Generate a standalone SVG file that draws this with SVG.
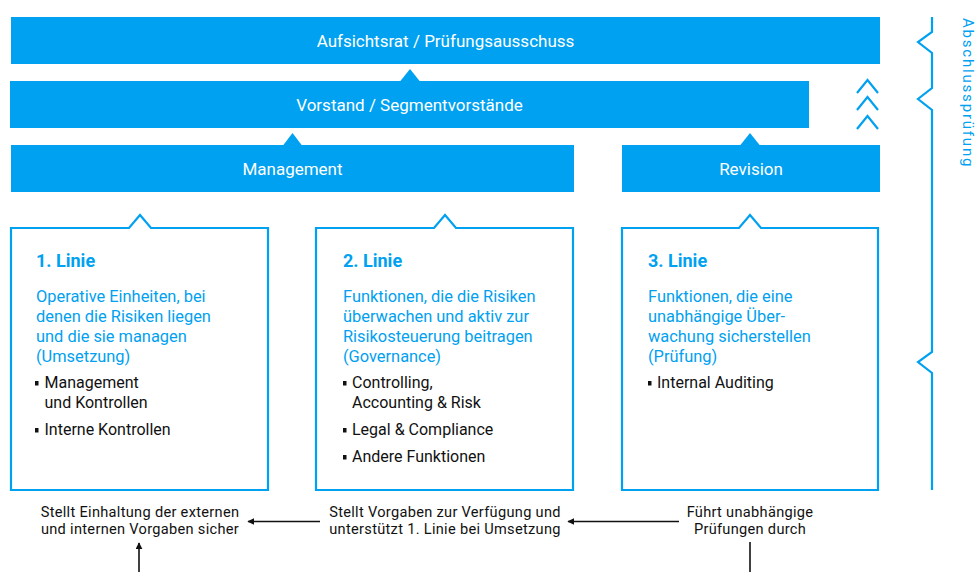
<svg xmlns="http://www.w3.org/2000/svg" width="976" height="572" viewBox="0 0 976 572">
<style>
.bar{fill:#00a1f0}
.bt{font-family:Roboto,"Liberation Sans",sans-serif;font-size:17px;fill:#fff;text-anchor:middle}
.box{fill:#fff;stroke:#00a1f0;stroke-width:2.2}
.h{font-family:Roboto,"Liberation Sans",sans-serif;font-size:18px;font-weight:bold;fill:#00a1f0}
.d{font-family:Roboto,"Liberation Sans",sans-serif;font-size:16.4px;fill:#00a1f0}
.li{font-family:Roboto,"Liberation Sans",sans-serif;font-size:16px;fill:#111}
.bu{fill:#111}
.ft{font-family:Roboto,"Liberation Sans",sans-serif;font-size:14.6px;fill:#111;text-anchor:middle;letter-spacing:0.3px}
.ln{stroke:#00a1f0;stroke-width:2.2;fill:none}
.ar{stroke:#111;stroke-width:1.6;fill:none}
</style>
<defs>
<marker id="ah" viewBox="0 0 10 10" refX="9" refY="5" markerWidth="7" markerHeight="7" markerUnits="userSpaceOnUse" orient="auto">
<path d="M0,0 L10,5 L0,10 Z" fill="#111"/>
</marker>
</defs>
<g id="aufsichtsrat">
<rect class="bar" x="11" y="17" width="869" height="47"/>
<text class="bt" x="445.5" y="47">Aufsichtsrat / Prüfungsausschuss</text>
</g>
<g id="vorstand">
<rect class="bar" x="10" y="81" width="799" height="47"/>
<polygon class="bar" points="400,81.5 410,69 420,81.5"/>
<text class="bt" x="409.5" y="111">Vorstand / Segmentvorstände</text>
</g>
<g id="management">
<rect class="bar" x="11" y="145" width="563" height="47"/>
<polygon class="bar" points="283,145.5 292.5,133 302,145.5"/>
<text class="bt" x="292.5" y="175">Management</text>
</g>
<g id="revision">
<rect class="bar" x="622" y="145" width="258" height="47"/>
<polygon class="bar" points="740,145.5 750,133 760,145.5"/>
<text class="bt" x="751" y="175">Revision</text>
</g>
<g id="chevrons">
<polyline class="ln" points="857,93 867.5,80 878,93"/>
<polyline class="ln" points="857,110 867.5,97 878,110"/>
<polyline class="ln" points="857,129 867.5,116 878,129"/>
</g>
<g id="abschlusspruefung">
<path class="ln" d="M932,17 V32 L918,42 L932,53 V88 L918,99 L932,110 V352 L918,362 L932,373 V490"/>
<text class="d" style="font-size:15px;letter-spacing:1.8px" transform="translate(963,18) rotate(90)">Abschlussprüfung</text>
</g>
<g id="linie1">
<path class="box" d="M11,228 H129 L140,215 L151,228 H268 V490 H11 Z"/>
<text class="h" x="36" y="267">1. Linie</text>
<text class="d" x="36" y="301.5">Operative Einheiten, bei</text>
<text class="d" x="36" y="321.5">denen die Risiken liegen</text>
<text class="d" x="36" y="341.5">und die sie managen</text>
<text class="d" x="36" y="361.5">(Umsetzung)</text>
<rect class="bu" x="35" y="381" width="3.5" height="4.5"/>
<text class="li" x="44.5" y="388">Management</text>
<text class="li" x="44.5" y="407.5">und Kontrollen</text>
<rect class="bu" x="35" y="428" width="3.5" height="4.5"/>
<text class="li" x="44.5" y="435">Interne Kontrollen</text>
</g>
<g id="linie2">
<path class="box" d="M316,228 H434 L445,215 L456,228 H573 V490 H316 Z"/>
<text class="h" x="343" y="267">2. Linie</text>
<text class="d" x="343" y="301.5">Funktionen, die die Risiken</text>
<text class="d" x="343" y="321.5">überwachen und aktiv zur</text>
<text class="d" x="343" y="341.5">Risikosteuerung beitragen</text>
<text class="d" x="343" y="361.5">(Governance)</text>
<rect class="bu" x="343" y="381" width="3.5" height="4.5"/>
<text class="li" x="352" y="388">Controlling,</text>
<text class="li" x="352" y="407.5">Accounting &amp; Risk</text>
<rect class="bu" x="343" y="428" width="3.5" height="4.5"/>
<text class="li" x="352" y="435">Legal &amp; Compliance</text>
<rect class="bu" x="343" y="455" width="3.5" height="4.5"/>
<text class="li" x="352" y="462">Andere Funktionen</text>
</g>
<g id="linie3">
<path class="box" d="M622,228 H739 L750,215 L761,228 H878 V490 H622 Z"/>
<text class="h" x="648" y="267">3. Linie</text>
<text class="d" x="648" y="301.5">Funktionen, die eine</text>
<text class="d" x="648" y="321.5">unabhängige Über-</text>
<text class="d" x="648" y="341.5">wachung sicherstellen</text>
<text class="d" x="648" y="361.5">(Prüfung)</text>
<rect class="bu" x="648" y="381" width="3.5" height="4.5"/>
<text class="li" x="657" y="388">Internal Auditing</text>
</g>
<g id="footer-texts">
<text class="ft" x="140" y="516.5">Stellt Einhaltung der externen</text>
<text class="ft" x="140" y="534">und internen Vorgaben sicher</text>
<text class="ft" x="445" y="516.5">Stellt Vorgaben zur Verfügung und</text>
<text class="ft" x="445" y="534">unterstützt 1. Linie bei Umsetzung</text>
<text class="ft" x="750" y="516.5">Führt unabhängige</text>
<text class="ft" x="750" y="534">Prüfungen durch</text>
</g>
<g id="connectors">
<line class="ar" x1="679" y1="521.5" x2="568" y2="521.5" marker-end="url(#ah)"/>
<line class="ar" x1="320" y1="521.5" x2="248" y2="521.5" marker-end="url(#ah)"/>
<line class="ar" x1="139" y1="572" x2="139" y2="543" marker-end="url(#ah)"/>
<line class="ar" x1="750" y1="542" x2="750" y2="572"/>
</g>
</svg>
